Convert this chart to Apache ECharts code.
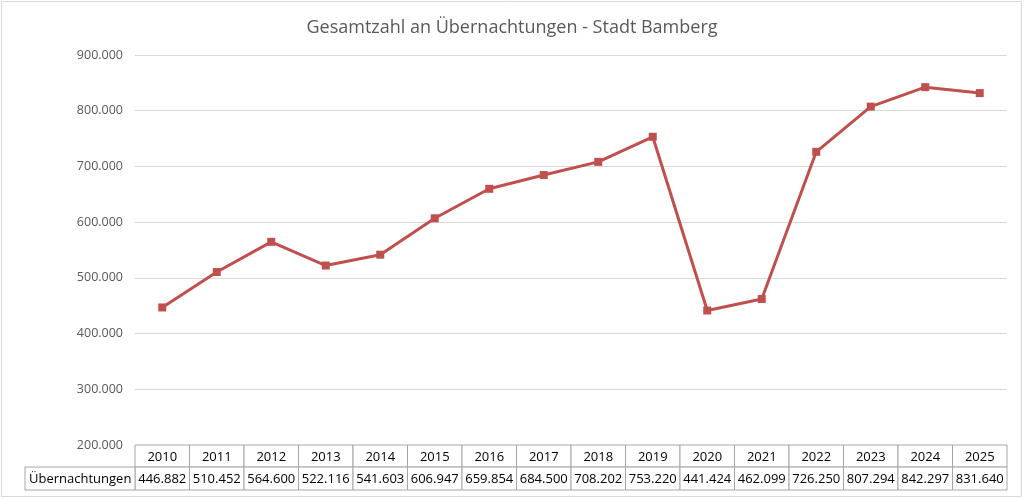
<!DOCTYPE html>
<html><head><meta charset="utf-8">
<script src="https://cdn.jsdelivr.net/npm/echarts@6/dist/echarts.min.js"></script>
<style>html,body{margin:0;padding:0;background:#fff}#c{width:1024px;height:499px}</style>
</head><body><div id="c"></div>
<script>
var titleText = 'Gesamtzahl an Übernachtungen - Stadt Bamberg';
var seriesName = 'Übernachtungen';
var years = ['2010','2011','2012','2013','2014','2015','2016','2017','2018','2019','2020','2021','2022','2023','2024','2025'];
var overnights = [446882,510452,564600,522116,541603,606947,659854,684500,708202,753220,441424,462099,726250,807294,842297,831640];
var yMin = 200000, yMax = 900000, yStep = 100000;

function fmt(v){ return String(v).replace(/\B(?=(\d{3})+(?!\d))/g,'.'); }

var FONT = '"Open Sans", sans-serif';
var chart = echarts.init(document.getElementById('c'));
chart.setOption({
  animation:false,
  backgroundColor:'#fff',
  graphic:[{type:'rect',shape:{x:1.5,y:1.5,width:1020,height:495},style:{fill:'none',stroke:'#d9d9d9',lineWidth:1}}],
  title:{text:titleText,left:'center',top:14,textStyle:{fontFamily:FONT,fontSize:18,fontWeight:'normal',color:'#595959'}},
  grid:{left:135,right:17,top:55,bottom:54},
  xAxis:{type:'category',data:years,boundaryGap:true,axisLine:{show:false},axisTick:{show:false},axisLabel:{show:false}},
  yAxis:{type:'value',min:yMin,max:yMax,interval:yStep,axisLine:{show:false},axisTick:{show:false},
    axisLabel:{formatter:fmt,fontFamily:FONT,fontSize:12.5,color:'#595959',margin:12,verticalAlign:'middle'},
    splitLine:{lineStyle:{color:'#d9d9d9',width:1}}},
  series:[
    {name:seriesName,type:'line',data:overnights,symbol:'rect',symbolSize:8,
     lineStyle:{color:'#c0504d',width:3},itemStyle:{color:'#c0504d'},z:3},
    {type:'custom',data:overnights.map(function(v,i){return [i,v];}),clip:false,silent:true,z:2,
     renderItem:function(params,api){
       var i=api.value(0);
       var p=api.coord([i,yMin]);
       var w=api.size([1,0])[0];
       var x0=p[0]-w/2, y0=p[1];
       var h1=22,h2=23;
       var stroke='#a6a6a6';
       var children=[
         {type:'rect',shape:{x:x0,y:y0,width:w,height:h1},style:{fill:'#fff',stroke:stroke,lineWidth:1}},
         {type:'rect',shape:{x:x0,y:y0+h1,width:w,height:h2},style:{fill:'#fff',stroke:stroke,lineWidth:1}},
         {type:'text',style:{text:years[i],x:p[0],y:y0+h1/2+1,align:'center',verticalAlign:'middle',font:'13px '+FONT,fill:'#000'}},
         {type:'text',style:{text:fmt(overnights[i]),x:p[0],y:y0+h1+h2/2+1,align:'center',verticalAlign:'middle',font:'13px '+FONT,fill:'#000'}}
       ];
       if(i===0){
         var lw=110;
         children.push({type:'rect',shape:{x:x0-lw,y:y0+h1,width:lw,height:h2},style:{fill:'#fff',stroke:stroke,lineWidth:1}});
         children.push({type:'text',style:{text:seriesName,x:x0-lw+4,y:y0+h1+h2/2+1,align:'left',verticalAlign:'middle',font:'13px '+FONT,fill:'#000'}});
       }
       return {type:'group',children:children};
     }}
  ]
});
</script></body></html>
